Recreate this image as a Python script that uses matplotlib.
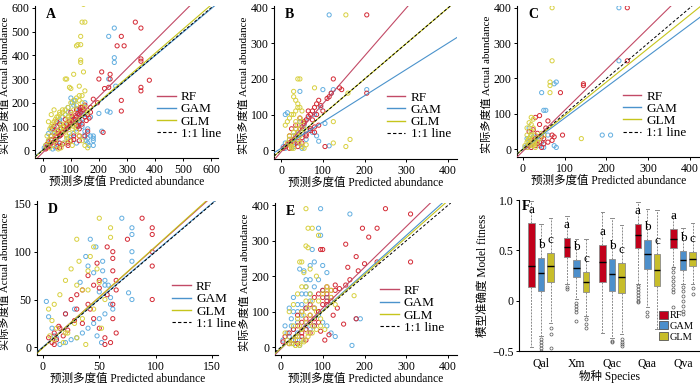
import numpy as np
import matplotlib
matplotlib.use('Agg')
import matplotlib.pyplot as plt
from matplotlib.lines import Line2D
from matplotlib.patches import Patch

plt.rcParams['font.family'] = ['Liberation Serif', 'Noto Sans CJK SC']
plt.rcParams['axes.unicode_minus'] = True

#### Data
# Panel A
a_rf_x = [410,330,350,280,290,265,350,350,380,350,350,280,280,240,210,200,235,215,240,220,180,195,170,150,140,130,130,130,130,120,110,100,95,90,80,70,60,60,60,55,50,45,40,30,25,20,15,10,150,160,170,120,105,85,75,65,135,145,100,90,110,125,115,140,155,165,50,35,30,
          45,55,65,75,85,95,105,115,125,135,50,70,90,110,130,150,40,60,80,100,120,140,160,30,20,15]
a_rf_y = [620,540,515,480,440,440,385,375,295,265,250,210,165,320,330,300,265,75,300,260,215,200,180,190,170,150,120,90,60,140,130,110,100,95,85,75,60,30,10,70,55,45,35,30,20,15,10,5,140,150,160,105,120,95,80,65,160,170,40,20,60,100,130,110,125,135,120,90,60,
          60,80,90,100,110,120,140,145,155,180,15,25,30,45,40,60,100,110,130,160,170,180,80,45,35,25]
a_gam_x = [235,255,255,255,235,240,260,240,200,230,210,180,180,180,160,160,160,150,140,130,120,110,100,90,80,70,60,50,40,30,20,10,5,120,130,140,150,100,110,90,75,55,45,35,25,15,125,135,145,155,165,170,115,105,95,85,
           50,60,70,80,90,100,110,120,130,140,150,160,170,180,40,30,20,60,90,120]
a_gam_y = [480,515,390,370,300,160,270,620,155,165,80,60,40,20,70,50,30,200,180,160,175,190,220,160,150,140,120,100,80,60,40,20,10,90,110,130,150,60,70,50,30,20,10,5,30,15,100,120,60,40,20,140,210,200,110,90,
           40,60,80,90,110,130,120,140,170,100,80,90,60,50,70,90,70,130,180,30]
a_glm_x = [145,140,150,135,135,125,120,135,135,80,85,110,145,95,130,100,150,140,130,120,110,100,90,80,70,60,50,40,30,20,10,60,70,80,90,100,110,120,130,140,150,160,40,30,20,15,55,65,75,85,95,105,115,125,35,25,45,
           30,40,50,60,70,80,90,100,110,120,130,140,150,160,25,35,45,55,65,75,85,95,105]
a_glm_y = [615,540,540,480,445,445,440,380,370,300,300,320,330,265,270,260,250,230,210,190,170,150,130,110,100,90,80,70,60,40,20,160,170,150,140,120,100,80,60,40,20,10,170,150,120,60,5,10,30,50,70,90,110,130,20,10,40,
           100,120,140,150,160,170,180,200,210,220,230,200,180,160,90,110,130,140,110,80,60,40,20]

# Panel B
b_rf_x = [205,125,140,145,205,105,90,85,80,75,70,65,60,55,50,45,40,35,30,25,20,15,10,5,60,70,80,90,100,50,40,30,20,45,55,65,35,25,75,85,95,110,115,120,
          20,30,40,50,60,70,80]
b_rf_y = [380,200,175,170,160,10,140,130,120,110,100,95,85,75,65,60,50,40,30,25,20,15,10,5,40,60,50,70,110,20,10,30,40,90,80,110,70,60,85,100,125,145,150,160,
          5,15,25,35,45,55,65]
b_gam_x = [115,205,125,120,45,100,10,15,90,115,105,70,60,50,40,30,20,10,5,25,35,45,55,65,75,85,30,40,50,60,20,10,80,95]
b_gam_y = [380,170,170,160,165,170,100,105,25,12,75,60,55,50,45,40,30,20,10,5,60,80,70,90,50,40,10,20,5,30,15,5,100,120]
b_glm_x = [155,40,45,30,160,155,165,125,125,80,30,35,40,45,50,25,20,15,10,35,40,45,30,25,50,55,60,20,15,35,40,45,30,25,20,
           30,35,40,45,50,55,30,35,40,45,25,20]
b_glm_y = [380,200,200,165,160,10,30,20,80,175,150,140,130,120,110,100,90,80,70,60,50,40,30,20,10,5,15,40,20,80,70,60,5,10,30,
           100,110,120,90,80,60,50,40,30,20,5,15]

# Panel C
c_rf_x = [250,250,145,145,90,95,70,60,30,40,70,60,50,40,30,20,25,35,45,15,10,20,30,55,75,40,15,25,35,45,50]
c_rf_y = [400,250,185,180,160,40,40,80,90,95,25,20,15,20,30,25,55,45,35,10,5,5,10,60,35,70,50,20,15,5,30]
c_gam_x = [230,230,80,75,45,50,55,210,190,75,80,60,20,10,15,25,30,5,10,20,35,40,45,50,15,25]
c_gam_y = [400,250,190,185,160,110,110,40,40,10,5,40,40,30,20,15,25,5,10,5,35,10,20,5,60,35]
c_glm_x = [70,70,65,65,65,140,20,25,15,10,20,30,15,20,25,10,15,30,35,40,45,50,25,20,10,5,
           10,12,15,18,20,22,25,28,30]
c_glm_y = [400,250,190,180,160,30,90,85,75,60,50,40,30,20,10,5,15,5,20,30,45,40,60,70,40,10,
           20,25,30,35,40,10,15,20,25]

# Panel D
d_rf_x = [88,97,97,97,97,97,75,57,62,62,62,65,65,57,62,62,40,45,50,35,30,25,20,15,10,5,8,12,40,42,45,50,55,60,65,55,50,48,35,30,28,22,18,14,10]
d_rf_y = [135,125,118,100,85,50,113,105,100,93,80,70,60,55,45,30,75,65,70,60,55,50,35,20,15,10,5,8,45,40,30,20,10,5,15,3,62,88,25,40,28,18,12,22,3]
d_gam_x = [70,79,79,79,79,79,76,42,47,53,53,55,58,60,62,55,50,45,40,35,30,25,20,15,10,5,3,8,12,20,40,45,50,55,60,38,33,28,48,52]
d_gam_y = [135,125,118,100,90,50,57,113,105,90,80,70,65,52,40,35,30,25,20,15,10,8,5,3,12,32,48,20,10,35,85,78,58,65,45,95,68,40,12,5]
d_glm_x = [50,60,60,30,32,30,35,45,25,20,15,10,5,8,12,20,40,42,48,50,55,35,28,22,18,40,45,52,30,38,10,6]
d_glm_y = [135,125,115,113,90,65,60,105,82,70,55,45,40,28,20,15,80,95,82,68,50,30,25,15,5,60,40,20,10,3,8,12]

# Panel E
e_rf_x = [250,310,195,230,210,310,230,200,180,155,185,160,165,155,140,130,120,100,95,150,180,110,90,80,70,60,50,40,30,20,10,5,100,110,120,90,70,60,40,30,50,20,80,95,105,115,125,135,
          30,40,50,60,70,80,90,100,110,120,130,40,50,60,70,80,90,100,110]
e_rf_y = [390,375,335,335,310,240,240,235,255,290,215,225,190,175,165,175,160,275,275,65,80,120,100,110,90,80,70,60,50,40,30,15,140,150,130,70,40,20,10,20,30,10,60,45,20,35,90,110,
          20,30,40,50,70,80,100,120,130,140,160,90,100,110,120,140,150,160,170]
e_gam_x = [95,165,90,95,75,80,70,55,45,180,190,170,100,110,60,30,20,10,5,25,40,50,60,70,80,90,100,110,120,130,40,50,30,60,70,
           20,30,40,50,60,70,80,90,100,110,30,40,50,60,70,80,15,25,35,45]
e_gam_y = [390,375,335,315,275,240,230,215,220,80,80,5,230,210,190,140,110,60,20,80,100,120,150,130,110,90,70,60,40,30,40,20,10,60,50,
           30,50,70,90,110,150,170,190,160,140,100,120,150,170,190,60,40,60,20,5]
e_glm_x = [60,65,75,90,60,65,45,50,55,70,85,110,120,175,60,50,40,30,20,10,15,25,35,45,55,65,75,85,95,105,45,55,35,65,75,
           20,30,40,50,60,70,80,90,100,110,120,130,35,45,55,65,75,85,95,50,60,70,40,30]
e_glm_y = [390,335,335,315,285,280,240,240,210,220,200,170,160,145,170,170,150,120,100,40,20,10,30,60,90,110,130,100,80,50,5,15,5,40,60,
           10,20,30,50,70,90,110,130,150,160,140,120,5,10,20,30,40,50,60,100,130,150,80,60]

# fitted lines: slope, intercept for RF, GAM, GLM
fits = {
    'A': [(1.18, -10), (0.99, 2), (1.02, 0)],
    'B': [(1.35, -5), (0.74, 5), (1.0, 0)],
    'C': [(1.16, -6), (0.88, 0), (0.95, 0)],
    'D': [(1.05, 0), (1.0, 0.5), (1.06, -0.5)],
    'E': [(1.15, -5), (1.06, -3), (1.04, -3)],
}

# Panel F box statistics (med, q1, q3, whislo, whishi)
species = ['Qal', 'Xm', 'Qac', 'Qaa', 'Qva']
rf_box = [(0.343, 0.133, 0.767, -0.46, 0.99), (0.533, 0.43, 0.627, 0.167, 0.843),
          (0.383, 0.183, 0.557, -0.317, 0.883), (0.657, 0.523, 0.76, 0.167, 0.977),
          (0.617, 0.523, 0.71, 0.333, 0.84)]
gam_box = [(0.273, 0.093, 0.423, -0.35, 0.757), (0.323, 0.24, 0.40, 0.017, 0.617),
           (0.26, 0.093, 0.417, -0.367, 0.817), (0.46, 0.317, 0.607, -0.067, 0.91),
           (0.407, 0.307, 0.49, 0.167, 0.717)]
glm_box = [(0.343, 0.183, 0.473, -0.22, 0.823), (0.19, 0.09, 0.283, -0.15, 0.617),
           (0.233, 0.073, 0.373, -0.33, 0.75), (0.30, 0.15, 0.46, -0.283, 0.90),
           (0.417, 0.343, 0.483, 0.167, 0.767)]
rf_fliers = [[], [0.14, 0.117], [], [0.15, 0.12, 0.09, 0.06, 0.03, 0.0, -0.017], [0.32, 0.28, 0.24, 0.2, 0.16, 0.12, 0.083, -0.067]]
gam_fliers = [[-0.38, -0.41, -0.44, -0.47, -0.5], [-0.02, -0.05, -0.08, -0.11, -0.2], [-0.4, -0.41], [-0.117, -0.15], [0.133, 0.1, 0.05, 0.0, -0.05, -0.1, -0.133]]
glm_fliers = [[-0.27, -0.33, -0.47], [-0.18, -0.23, -0.27], [-0.38, -0.41, -0.43, -0.45], [], [0.13, 0.067]]
letters = ['a', 'b', 'c']

#### Colors
c_pts = ['#d42a35', '#62aee0', '#d8d040']
c_line = ['#c24a66', '#4b93cc', '#c6c51c']
c_box = ['#c1001b', '#4d8fcb', '#c7bd2a']

W, H = 700, 386
def rect(l, t, r, b):
    return [l / W, 1 - b / H, (r - l) / W, (b - t) / H]

fig = plt.figure(figsize=(7, 3.86), dpi=100)

panels = [
    ('A', rect(35, 6, 218, 158), (-28, 625), (-33, 608), [0, 100, 200, 300, 400, 500, 600],
     (a_rf_x, a_rf_y), (a_gam_x, a_gam_y), (a_glm_x, a_glm_y), (0.66, 0.45)),
    ('B', rect(274, 6, 457, 159), (-17, 421), (-25, 405), [0, 100, 200, 300, 400],
     (b_rf_x, b_rf_y), (b_gam_x, b_gam_y), (b_glm_x, b_glm_y), (0.61, 0.45)),
    ('C', rect(517, 6, 700, 157), (-14, 424), (-22, 405), [0, 100, 200, 300, 400],
     (c_rf_x, c_rf_y), (c_gam_x, c_gam_y), (c_glm_x, c_glm_y), (0.57, 0.45)),
    ('D', rect(37, 201, 218, 355), (-5.3, 155.4), (-8, 153), [0, 50, 100, 150],
     (d_rf_x, d_rf_y), (d_gam_x, d_gam_y), (d_glm_x, d_glm_y), (0.74, 0.49)),
    ('E', rect(275, 203, 457, 355), (-14, 421), (-22, 406), [0, 100, 200, 300, 400],
     (e_rf_x, e_rf_y), (e_gam_x, e_gam_y), (e_glm_x, e_glm_y), (0.57, 0.47)),
]

for name, r, xl, yl, ticks, rf, gam, glm, lg in panels:
    ax = fig.add_axes(r)
    # draw GAM, RF, GLM so yellow sits on top like the original
    for (xs, ys), col in zip([gam, rf, glm], [c_pts[1], c_pts[0], c_pts[2]]):
        ax.scatter(xs, ys, s=9, facecolors='none', edgecolors=col, linewidths=0.7, zorder=2)
    for (k, b), col in zip(fits[name], c_line):
        ax.axline((0, b), slope=k, color=col, lw=0.8, zorder=3)
    ax.axline((0, 0), slope=1, color='k', lw=0.7, ls=(0, (3, 2)), zorder=4)
    ax.set_xlim(xl)
    ax.set_ylim(yl)
    ax.set_xticks(ticks)
    ax.set_yticks(ticks)
    for s in ['top', 'right']:
        ax.spines[s].set_visible(False)
    ax.tick_params(labelsize=8.5, length=2.5, width=0.7, pad=1.5)
    ax.set_xlabel('预测多度值 Predicted abundance', fontsize=8.3, labelpad=0.5)
    ax.set_ylabel('实际多度值 Actual abundance', fontsize=8.0, labelpad=1)
    ax.yaxis.set_label_coords(-0.135 if name != 'D' else -0.15, 0.48)
    ax.text(0.06, 0.985, name, transform=ax.transAxes, fontsize=10, fontweight='bold', va='top')
    handles = [Line2D([], [], color=c_line[0], lw=1), Line2D([], [], color=c_line[1], lw=1),
               Line2D([], [], color=c_line[2], lw=1), Line2D([], [], color='k', lw=0.8, ls=(0, (3, 2)))]
    ax.legend(handles, ['RF', 'GAM', 'GLM', '1:1 line'], loc='upper left', bbox_to_anchor=lg,
              frameon=False, fontsize=9.5, handlelength=1.4, handletextpad=0.4, labelspacing=0.0,
              borderpad=0.1, borderaxespad=0)

# Panel F
ax = fig.add_axes(rect(519, 200, 700, 351))
pos = np.arange(1, len(species) + 1)
offs = [-0.27, 0.0, 0.27]
for j, (boxes, fl) in enumerate([(rf_box, rf_fliers), (gam_box, gam_fliers), (glm_box, glm_fliers)]):
    stats = []
    for (med, q1, q3, lo, hi), f in zip(boxes, fl):
        stats.append(dict(med=med, q1=q1, q3=q3, whislo=lo, whishi=hi, fliers=f))
    ax.bxp(stats, positions=pos + offs[j], widths=0.19, patch_artist=True, manage_ticks=False,
           boxprops=dict(facecolor=c_box[j], edgecolor='#8a8a8a', lw=0.6),
           medianprops=dict(color='k', lw=1.0),
           whiskerprops=dict(color='#8a8a8a', lw=0.7, ls=(0, (2, 1.2))),
           capprops=dict(color='#8a8a8a', lw=0.7),
           flierprops=dict(marker='o', markersize=2.2, markerfacecolor='none',
                           markeredgecolor='#555555', markeredgewidth=0.5))
    for p, b in zip(pos, boxes):
        ax.text(p + offs[j], b[2] + 0.07, letters[j], ha='center', va='bottom', fontsize=9.5)
ax.set_xlim(0.38, 5.48)
ax.set_ylim(-0.5, 1.0)
ax.set_xticks(pos)
ax.set_xticklabels(species)
ax.set_yticks([1.0, 0.5, 0, -0.5])
ax.set_yticklabels(['1.0', '0.5', '0', '\u22120.5'])
for s in ['top', 'right']:
    ax.spines[s].set_visible(False)
ax.tick_params(labelsize=8.5, length=2.5, width=0.7, pad=1.5)
ax.tick_params(axis='x', length=0, pad=5)
ax.set_xlabel('物种 Species', fontsize=8.3, labelpad=0)
ax.set_ylabel('模型准确度 Model fitness', fontsize=8.3, labelpad=2)
ax.text(0.015, 1.0, 'F', transform=ax.transAxes, fontsize=10, fontweight='bold', va='top')
ph = [Patch(facecolor=c, edgecolor='#555555', lw=0.6) for c in c_box]
ax.legend(ph, ['RF', 'GAM', 'GLM'], loc='lower right', bbox_to_anchor=(1.0, 0.02), frameon=False,
          fontsize=7.5, handlelength=0.8, handleheight=0.8, handletextpad=0.2, labelspacing=0.1,
          borderpad=0.1)

fig.savefig('out.png', dpi=100)
